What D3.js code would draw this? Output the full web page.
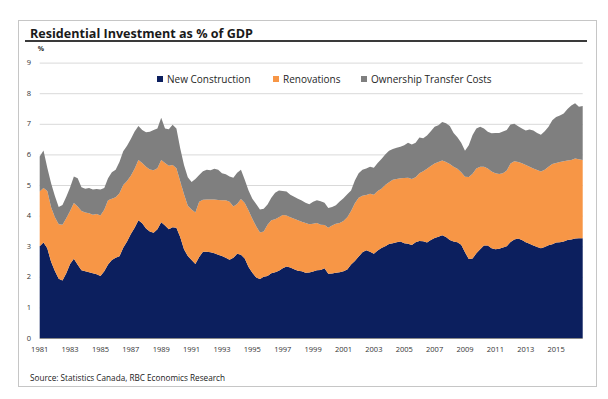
<!DOCTYPE html>
<meta charset="utf-8">
<style>
    body { margin: 0; background: #fff; }
    svg { display: block; font-family: "Open Sans", sans-serif; }
</style>
<svg width="608" height="399"></svg>
<script src="https://d3js.org/d3.v7.min.js"></script>
<script>

    // quarterly, 1981Q1 .. 2016Q4, % of GDP
    var startYear = 1981;

    var newConstruction = [
        3.00, 3.12, 2.93, 2.49, 2.19, 1.94, 1.88, 2.12, 2.42, 2.59, 2.39, 2.21,
        2.18, 2.15, 2.12, 2.08, 2.03, 2.18, 2.40, 2.55, 2.62, 2.67, 2.95, 3.15,
        3.40, 3.60, 3.85, 3.75, 3.58, 3.48, 3.44, 3.55, 3.78, 3.68, 3.55, 3.62,
        3.60, 3.30, 2.90, 2.68, 2.55, 2.42, 2.65, 2.82, 2.82, 2.80, 2.77, 2.72,
        2.68, 2.62, 2.56, 2.62, 2.75, 2.72, 2.60, 2.32, 2.13, 1.98, 1.93, 2.00,
        2.03, 2.12, 2.15, 2.20, 2.28, 2.34, 2.30, 2.25, 2.20, 2.18, 2.13, 2.14,
        2.17, 2.21, 2.22, 2.28, 2.10, 2.11, 2.13, 2.15, 2.18, 2.24, 2.40, 2.52,
        2.66, 2.80, 2.87, 2.82, 2.75, 2.86, 2.94, 3.00, 3.07, 3.10, 3.13, 3.15,
        3.10, 3.08, 3.04, 3.13, 3.17, 3.16, 3.12, 3.20, 3.27, 3.31, 3.36, 3.30,
        3.20, 3.15, 3.13, 3.05, 2.80, 2.58, 2.60, 2.77, 2.90, 3.02, 3.02, 2.93,
        2.90, 2.92, 2.96, 3.00, 3.14, 3.22, 3.25, 3.20, 3.13, 3.08, 3.02, 2.97,
        2.93, 2.97, 3.03, 3.06, 3.12, 3.13, 3.15, 3.20, 3.22, 3.25, 3.26, 3.26
    ];

    var renovations = [
        1.79, 1.78, 1.87, 1.78, 1.76, 1.78, 1.82, 1.79, 1.73, 1.82, 1.91, 1.94,
        1.92, 1.93, 1.91, 1.97, 1.97, 2.01, 2.10, 2.00, 1.98, 2.06, 2.05, 1.98,
        1.90, 1.93, 1.97, 1.97, 2.02, 2.03, 2.04, 2.00, 2.04, 2.04, 2.08, 2.03,
        1.95, 1.82, 1.80, 1.64, 1.65, 1.68, 1.80, 1.70, 1.71, 1.73, 1.76, 1.79,
        1.82, 1.88, 1.89, 1.68, 1.63, 1.82, 1.81, 1.85, 1.77, 1.67, 1.52, 1.48,
        1.67, 1.73, 1.73, 1.75, 1.74, 1.66, 1.65, 1.65, 1.65, 1.62, 1.63, 1.58,
        1.56, 1.55, 1.48, 1.41, 1.50, 1.57, 1.60, 1.61, 1.64, 1.71, 1.75, 1.88,
        1.92, 1.85, 1.80, 1.89, 1.93, 1.94, 1.94, 2.00, 2.02, 2.07, 2.07, 2.07,
        2.13, 2.16, 2.16, 2.12, 2.21, 2.29, 2.41, 2.42, 2.43, 2.44, 2.44, 2.45,
        2.49, 2.45, 2.40, 2.37, 2.47, 2.68, 2.77, 2.77, 2.70, 2.58, 2.52, 2.51,
        2.48, 2.44, 2.42, 2.47, 2.56, 2.56, 2.50, 2.51, 2.52, 2.52, 2.52, 2.52,
        2.51, 2.53, 2.57, 2.63, 2.60, 2.62, 2.63, 2.60, 2.60, 2.62, 2.58, 2.56
    ];

    var transferCosts = [
        1.14, 1.23, 0.76, 0.79, 0.69, 0.56, 0.65, 0.71, 0.77, 0.87, 0.92, 0.78,
        0.78, 0.82, 0.82, 0.82, 0.85, 0.71, 0.72, 0.87, 0.90, 1.02, 1.10, 1.15,
        1.20, 1.22, 1.11, 1.08, 1.12, 1.23, 1.32, 1.30, 1.38, 1.13, 1.19, 1.32,
        1.30, 1.08, 0.95, 0.93, 0.90, 1.10, 0.88, 0.93, 0.97, 0.95, 1.00, 0.99,
        0.88, 0.85, 0.83, 0.94, 1.02, 0.96, 0.76, 0.65, 0.65, 0.73, 0.75, 0.74,
        0.66, 0.73, 0.87, 0.87, 0.78, 0.79, 0.73, 0.72, 0.70, 0.69, 0.66, 0.65,
        0.72, 0.74, 0.77, 0.73, 0.65, 0.60, 0.61, 0.70, 0.75, 0.75, 0.67, 0.75,
        0.80, 0.85, 0.87, 0.89, 0.88, 0.92, 0.97, 1.00, 1.03, 1.01, 1.02, 1.03,
        1.07, 1.14, 1.12, 1.13, 1.17, 1.08, 1.09, 1.14, 1.20, 1.20, 1.26, 1.27,
        1.24, 1.10, 1.03, 0.96, 0.85, 1.04, 1.26, 1.31, 1.30, 1.25, 1.20, 1.25,
        1.32, 1.34, 1.37, 1.33, 1.28, 1.22, 1.17, 1.14, 1.13, 1.21, 1.24, 1.21,
        1.20, 1.26, 1.30, 1.43, 1.50, 1.52, 1.56, 1.68, 1.78, 1.80, 1.72, 1.76
    ];

    var seriesNames = ["New Construction", "Renovations", "Ownership Transfer Costs"];
    var seriesColors = ["#0c1f5e", "#f79646", "#7f7f7f"];
    var yTicks = [0, 1, 2, 3, 4, 5, 6, 7, 8, 9];
    var xTickYears = [1981, 1983, 1985, 1987, 1989, 1991, 1993, 1995, 1997,
        1999, 2001, 2003, 2005, 2007, 2009, 2011, 2013, 2015];

    // one row per quarter
    var rows = newConstruction.map(function (v, i) {
        return { i: i, nc: v, ren: renovations[i], otc: transferCosts[i] };
    });

    var svg = d3.select("svg");

    // outer frame
    svg.append("rect")
        .attr("x", 18.5).attr("y", 20.5)
        .attr("width", 578).attr("height", 366)
        .attr("fill", "none")
        .attr("stroke", "#c6c6c6");

    // title + underline
    svg.append("text")
        .attr("x", 30).attr("y", 37.5)
        .attr("font-size", 13)
        .attr("font-weight", "bold")
        .attr("fill", "#1a1a1a")
        .attr("textLength", 223)
        .attr("lengthAdjust", "spacingAndGlyphs")
        .text("Residential Investment as % of GDP");

    svg.append("line")
        .attr("x1", 25).attr("x2", 587)
        .attr("y1", 41).attr("y2", 41)
        .attr("stroke", "#3a3a3a")
        .attr("stroke-width", 1.8);

    var x = d3.scaleLinear()
        .domain([0, rows.length - 1])
        .range([39.7, 582.7]);

    var y = d3.scaleLinear()
        .domain([0, 9])
        .range([338, 62.6]);

    // grid
    svg.append("g")
        .selectAll("line")
        .data(yTicks)
        .enter().append("line")
        .attr("x1", x.range()[0]).attr("x2", x.range()[1])
        .attr("y1", function (d) { return y(d) + 0.5; })
        .attr("y2", function (d) { return y(d) + 0.5; })
        .attr("stroke", "#d9d9d9");

    var stack = d3.stack().keys(["nc", "ren", "otc"]);
    var layers = stack(rows);

    var area = d3.area()
        .x(function (d) { return x(d.data.i); })
        .y0(function (d) { return y(d[0]); })
        .y1(function (d) { return y(d[1]); });

    svg.append("g")
        .selectAll("path")
        .data(layers)
        .enter().append("path")
        .attr("d", area)
        .attr("fill", function (d, i) { return seriesColors[i]; });

    // baseline
    svg.append("line")
        .attr("x1", x.range()[0]).attr("x2", x.range()[1])
        .attr("y1", y(0) + 0.5).attr("y2", y(0) + 0.5)
        .attr("stroke", "#8a8a8a");

    // y labels
    svg.append("g")
        .selectAll("text")
        .data(yTicks)
        .enter().append("text")
        .attr("x", 29)
        .attr("y", function (d) { return y(d); })
        .attr("dy", "0.35em")
        .attr("text-anchor", "middle")
        .attr("font-size", 7.5)
        .attr("fill", "#333")
        .text(function (d) { return d; });

    svg.append("text")
        .attr("x", 41).attr("y", 49)
        .attr("dy", "0.35em")
        .attr("text-anchor", "middle")
        .attr("font-size", 7)
        .attr("font-weight", "bold")
        .attr("fill", "#333")
        .text("%");

    // x labels, at the first quarter of each year
    svg.append("g")
        .selectAll("text")
        .data(xTickYears)
        .enter().append("text")
        .attr("x", function (d) { return x((d - startYear) * 4); })
        .attr("y", 349)
        .attr("dy", "0.35em")
        .attr("text-anchor", "middle")
        .attr("font-size", 7.5)
        .attr("fill", "#333")
        .text(function (d) { return d; });

    // legend
    var legendX = [157, 273, 361];
    var legend = svg.append("g")
        .selectAll("g")
        .data(seriesNames)
        .enter().append("g")
        .attr("transform", function (d, i) { return "translate(" + legendX[i] + ",79)"; });

    legend.append("rect")
        .attr("x", 0).attr("y", -3)
        .attr("width", 6).attr("height", 6)
        .attr("fill", function (d, i) { return seriesColors[i]; });

    legend.append("text")
        .attr("x", 10)
        .attr("dy", "0.35em")
        .attr("font-size", 10)
        .attr("fill", "#262626")
        .text(function (d) { return d; });

    // source
    svg.append("text")
        .attr("x", 30).attr("y", 378)
        .attr("dy", "0.35em")
        .attr("font-size", 8.2)
        .attr("fill", "#1a1a1a")
        .text("Source: Statistics Canada, RBC Economics Research");

</script>
